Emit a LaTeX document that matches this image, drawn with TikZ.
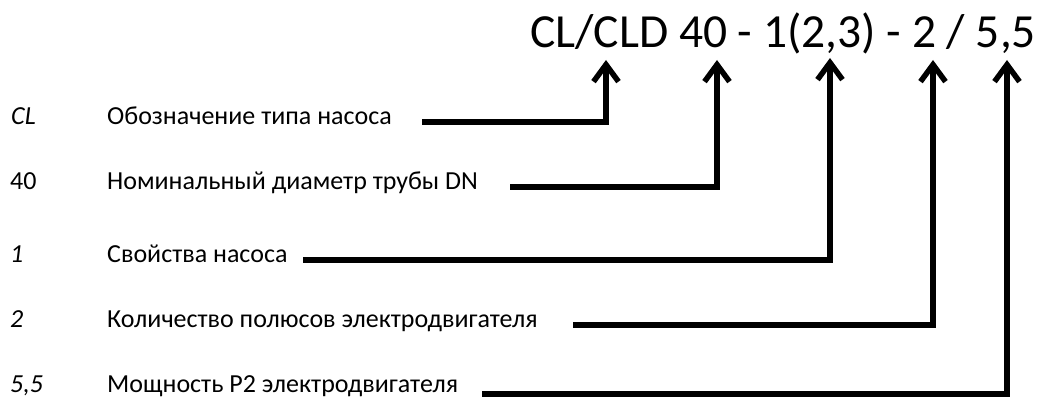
\documentclass[tikz,border=0pt]{standalone}
\usepackage{fontspec}
\setmainfont{Carlito}
\usetikzlibrary{arrows.meta, positioning}

\begin{document}
\begin{tikzpicture}[x=1pt, y=-1pt,
  title/.style={anchor=base west, inner sep=0pt, font=\fontsize{47.5}{52}\selectfont},
  code/.style={anchor=base west, inner sep=0pt, font=\fontsize{26}{30}\selectfont\itshape},
  desc/.style={anchor=base west, inner sep=0pt, font=\fontsize{26}{30}\selectfont},
  lead/.style={line width=5.5pt, -{Straight Barb[length=17pt, width=25pt]}}
]
\useasboundingbox (0,0) rectangle (1039,398);

\node[title] (name) at (530,48) {CL/CLD 40 - 1(2,3) - 2 / 5,5};

% left column
\node[code] (c1) at (11,125) {CL};
\node[code, font=\fontsize{26}{30}\selectfont] (c2) at (10,190) {40};
\node[code] (c3) at (10,262) {1};
\node[code] (c4) at (10,327) {2};
\node[code] (c5) at (10,392) {5,5};

\node[desc] (d1) at (107,125) {Обозначение типа насоса};
\node[desc] (d2) at (107,190) {Номинальный диаметр трубы DN};
\node[desc] (d3) at (107,262) {Свойства насоса};
\node[desc] (d4) at (107,327) {Количество полюсов электродвигателя};
\node[desc] (d5) at (107,392) {Мощность Р2 электродвигателя};

% arrow tips under the type code
\coordinate (t1) at (606,60);
\coordinate (t2) at (717,60);
\coordinate (t3) at (830,58);
\coordinate (t4) at (933,60);
\coordinate (t5) at (1007,60);

% line starts
\coordinate (s1) at (422,122);
\coordinate (s2) at (510,187);
\coordinate (s3) at (303,260);
\coordinate (s4) at (573,325);
\coordinate (s5) at (482,394);

\draw[lead] (s1) -| (t1);
\draw[lead] (s2) -| (t2);
\draw[lead] (s3) -| (t3);
\draw[lead] (s4) -| (t4);
\draw[lead] (s5) -| (t5);
\end{tikzpicture}
\end{document}
